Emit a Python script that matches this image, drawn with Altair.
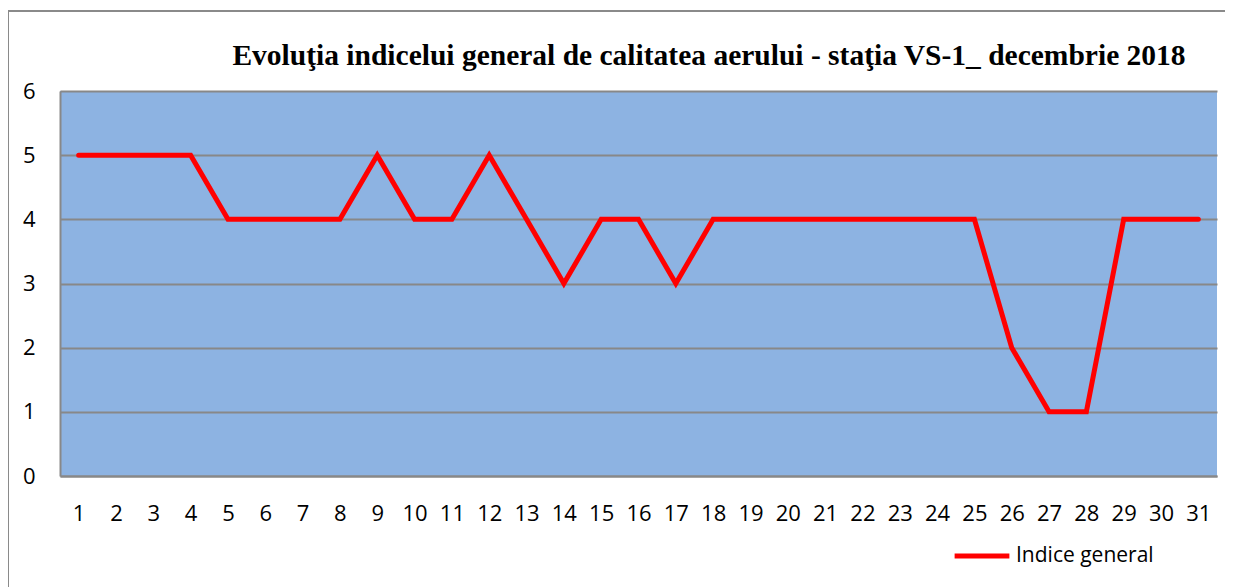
import altair as alt
import pandas as pd

days = [str(d) for d in range(1, 32)]
values = [5, 5, 5, 5, 4, 4, 4, 4, 5, 4, 4, 5, 4, 3, 4, 4, 3, 4, 4, 4,
          4, 4, 4, 4, 4, 2, 1, 1, 4, 4, 4]
series_name = "Indice general"
title_text = "Evoluţia indicelui general de calitatea aerului - staţia VS-1_ decembrie 2018"

df = pd.DataFrame({"zi": days, "valoare": values, "serie": [series_name] * len(days)})

PW, PH = 1157, 385
PL, PT = 52, 83
TOTAL_W, TOTAL_H = 1217, 579

one = pd.DataFrame({"a": [0]})

border = alt.Chart(one).mark_rect(
    fill=None, stroke="#8a8a8a", strokeWidth=2, clip=False
).encode(
    x=alt.value(-PL), x2=alt.value(TOTAL_W + 20),
    y=alt.value(-PT + 3), y2=alt.value(TOTAL_H + 20),
)

title = alt.Chart(one).mark_text(
    text=title_text, font="Liberation Serif", fontSize=29.5, fontWeight="bold",
    color="#000000", align="center", baseline="alphabetic", clip=False
).encode(x=alt.value(649), y=alt.value(-26))

line = alt.Chart(df).mark_line(strokeWidth=5, strokeCap="round", strokeJoin="miter").encode(
    x=alt.X("zi:O", sort=days, title=None,
            axis=alt.Axis(labelAngle=0, labelFont="Open Sans", labelFontSize=22,
                          labelColor="#000000", labelPadding=27, ticks=False,
                          domainColor="#888888", domainWidth=2, grid=False)),
    y=alt.Y("valoare:Q", title=None, scale=alt.Scale(domain=[0, 6], nice=False),
            axis=alt.Axis(values=[0, 1, 2, 3, 4, 5, 6], labelFont="Open Sans", labelFontSize=22,
                          labelColor="#000000", labelPadding=25, ticks=False,
                          domainColor="#888888", domainWidth=2, gridColor="#888888",
                          gridWidth=2, gridOpacity=1)),
    color=alt.Color("serie:N", scale=alt.Scale(range=["#FF0000"]),
                    legend=alt.Legend(title=None, orient="none", legendX=892, legendY=435,
                                      symbolType="stroke", symbolStrokeWidth=5, symbolSize=3000,
                                      labelFont="Open Sans", labelFontSize=21, labelColor="#000000",
                                      labelOffset=4)),
)

chart = alt.layer(border, line, title).properties(
    width=PW, height=PH,
    padding={"left": PL, "top": PT, "right": TOTAL_W - PL - PW, "bottom": TOTAL_H - PT - PH},
    autosize=alt.AutoSizeParams(type="none"),
    background="#FFFFFF",
).configure_view(
    fill="#8DB3E2", stroke=None
)

chart.save("out.html", embed_options={"renderer": "svg", "actions": False})
